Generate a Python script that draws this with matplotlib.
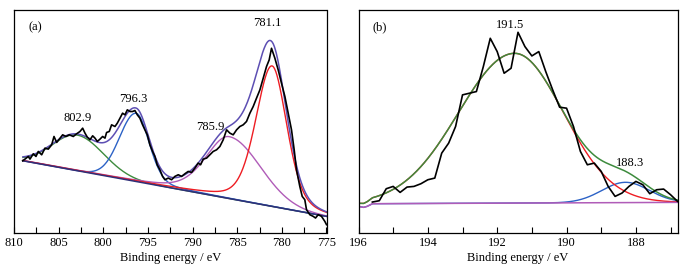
import numpy as np
import matplotlib
matplotlib.use("Agg")
import matplotlib.pyplot as plt

plt.rcParams['font.family'] = ['Liberation Serif', 'DejaVu Serif']
plt.rcParams['font.size'] = 9

# ---------------- Panel (a): Co 2p ----------------
a_energy = [809.03, 808.77, 808.40, 808.21, 807.84, 807.54, 807.28, 806.90, 806.53, 806.16,
            805.78, 805.52, 805.22, 804.93, 804.55, 804.18, 803.81, 803.36, 802.99, 802.61,
            802.31, 802.05, 801.79, 801.49, 801.19, 800.93, 800.67, 800.37, 800.07, 799.81,
            799.63, 799.33, 799.07, 798.69, 798.43, 798.13, 797.84, 797.57, 797.31, 797.01,
            796.72, 796.46, 796.19, 795.90, 795.60, 795.34, 795.07, 794.78, 794.48, 794.22,
            793.96, 793.66, 793.36, 793.10, 792.72, 792.35, 791.98, 791.60, 791.23, 790.86,
            790.49, 790.11, 789.74, 789.37, 789.10, 788.81, 788.43, 788.06, 787.69, 787.31,
            786.94, 786.57, 786.19, 785.82, 785.45, 785.07, 784.70, 784.33, 783.96, 783.58,
            783.21, 782.84, 782.46, 782.09, 781.72, 781.42, 781.16, 780.78, 780.41, 780.04,
            779.66, 779.29, 778.92, 778.62, 778.36, 777.99, 777.72, 777.43, 777.24, 776.87,
            776.49, 776.23, 775.93, 775.56, 775.19, 775.00]
a_counts = [217, 222, 230, 222, 238, 230, 245, 235, 255, 252,
            265, 290, 272, 282, 295, 290, 295, 290, 298, 305,
            315, 300, 288, 280, 292, 285, 275, 282, 290, 285,
            302, 305, 325, 320, 330, 345, 360, 355, 370, 365,
            365, 368, 355, 345, 325, 310, 295, 265, 245, 230,
            205, 190, 170, 160, 165, 160, 170, 175, 170, 178,
            185, 182, 195, 210, 205, 222, 225, 235, 245, 250,
            260, 280, 310, 300, 295, 310, 320, 325, 335, 360,
            380, 405, 430, 465, 500, 520, 555, 525, 490, 450,
            410, 360, 310, 250, 190, 140, 110, 100, 70, 55,
            50, 45, 55, 50, 35, 25]

a_base_energy = [809.0, 775.0]
a_base_counts = [217, 50]

a_labels = ["802.9", "796.3", "785.9", "781.1"]
a_centers = [802.9, 796.3, 785.9, 781.1]
a_amps = [107, 205, 186, 422]
a_fwhm_hi = [6.6, 4.4, 6.2, 4.3]
a_eta_hi = [0.0, 0.0, 0.3, 0.3]
a_fwhm_lo = [6.9, 3.4, 8.2, 3.9]
a_eta_lo = [0.0, 0.2, 0.0, 0.3]
a_colors = ["#3d8b3d", "#2c62c6", "#b05cb8", "#ee1d23"]

# ---------------- Panel (b): B 1s ----------------
b_energy = [195.6, 195.4, 195.2, 195.0, 194.8, 194.6, 194.4, 194.2, 194.0, 193.8,
            193.6, 193.4, 193.2, 193.0, 192.8, 192.6, 192.4, 192.2, 192.0, 191.8,
            191.6, 191.4, 191.2, 191.0, 190.8, 190.6, 190.4, 190.2, 190.0, 189.8,
            189.6, 189.4, 189.2, 189.0, 188.8, 188.6, 188.4, 188.2, 188.0, 187.8,
            187.6, 187.4, 187.2, 187.0, 186.8]
b_counts = [93, 97, 133, 140, 122, 138, 140, 148, 160, 165,
            240, 270, 320, 415, 420, 425, 500, 585, 545, 480,
            495, 603, 560, 532, 545, 485, 430, 378, 375, 320,
            245, 205, 210, 185, 140, 110, 120, 140, 155, 145,
            118, 130, 132, 115, 95]

b_base_energy = [196.0, 195.85, 195.75, 195.6, 186.8]
b_base_counts = [80, 77, 80, 88, 92]

b_labels = ["191.5", "188.3"]
b_centers = [191.5, 188.3]
b_amps = [450, 61]
b_fwhm_hi = [3.8, 1.6]
b_eta_hi = [0.0, 0.0]
b_fwhm_lo = [3.3, 1.6]
b_eta_lo = [0.0, 0.0]
b_colors = ["#ee1d23", "#2c62c6"]


def peak(x, c, a, fh, eh, fl, el):
    hi = x >= c
    f = np.where(hi, fh, fl)
    eta = np.where(hi, eh, el)
    u2 = (2.0 * (x - c) / f) ** 2
    return a * (eta / (1.0 + u2) + (1.0 - eta) * 2.0 ** (-u2))


fig = plt.figure(figsize=(6.91, 2.71), dpi=100)
axA = fig.add_axes([14 / 691, 1 - 233 / 271, 312.5 / 691, 223 / 271])
axB = fig.add_axes([358.5 / 691, 1 - 233 / 271, 319 / 691, 223 / 271])

# panel a
xa = np.linspace(a_base_energy[0], a_base_energy[-1], 600)
base_a = np.interp(xa[::-1], a_base_energy[::-1], a_base_counts[::-1])[::-1]
env_a = base_a.copy()
comps = []
for c, a, fh, eh, fl, el in zip(a_centers, a_amps, a_fwhm_hi, a_eta_hi, a_fwhm_lo, a_eta_lo):
    p = peak(xa, c, a, fh, eh, fl, el)
    comps.append(p)
    env_a += p
for p, col in zip(comps, a_colors):
    axA.plot(xa, base_a + p, color=col, lw=1.0)
axA.plot(a_base_energy, a_base_counts, color="#2e2f78", lw=1.1)
axA.plot(xa, env_a, color="#5d4fb3", lw=1.1)
axA.plot(a_energy, a_counts, color="black", lw=1.2)

axA.set_xlim(810, 775)
axA.set_ylim(0, 670)
axA.set_xticks(np.arange(810, 774, -5))
axA.set_xticks(np.arange(807.5, 775, -5), minor=True)
for lab, pos in zip(a_labels, [(0.204, 0.514), (0.382, 0.601), (0.627, 0.477), (0.812, 0.940)]):
    axA.text(pos[0], pos[1], lab, transform=axA.transAxes, ha="center", va="center")
axA.text(0.067, 0.924, "(a)", transform=axA.transAxes, ha="center", va="center")

# panel b
xb = np.linspace(196.0, 186.8, 500)
base_b = np.interp(xb[::-1], b_base_energy[::-1], b_base_counts[::-1])[::-1]
env_b = base_b.copy()
compsb = []
for c, a, fh, eh, fl, el in zip(b_centers, b_amps, b_fwhm_hi, b_eta_hi, b_fwhm_lo, b_eta_lo):
    p = peak(xb, c, a, fh, eh, fl, el)
    compsb.append(p)
    env_b += p
axB.plot(xb, base_b + compsb[1], color=b_colors[1], lw=1.0)
axB.plot(xb, base_b + compsb[0], color=b_colors[0], lw=1.0)
axB.plot(b_base_energy, b_base_counts, color="#b05cb8", lw=1.1)
axB.plot(xb, env_b, color="#3d8b3d", lw=1.1)
axB.plot(b_energy, b_counts, color="black", lw=1.2)

axB.set_xlim(196, 186.8)
axB.set_ylim(0, 670)
axB.set_xticks([196, 194, 192, 190, 188])
axB.set_xticks([195, 193, 191, 189, 187], minor=True)
for lab, pos in zip(b_labels, [(0.475, 0.933), (0.851, 0.313)]):
    axB.text(pos[0], pos[1], lab, transform=axB.transAxes, ha="center", va="center")
axB.text(0.067, 0.924, "(b)", transform=axB.transAxes, ha="center", va="center")

for ax in (axA, axB):
    ax.set_yticks([])
    ax.tick_params(axis="x", which="both", direction="in", length=4, width=0.8, pad=3)
    ax.set_xlabel("Binding energy / eV", labelpad=2)
    for s in ax.spines.values():
        s.set_linewidth(0.9)

fig.savefig("out.png", dpi=100)
